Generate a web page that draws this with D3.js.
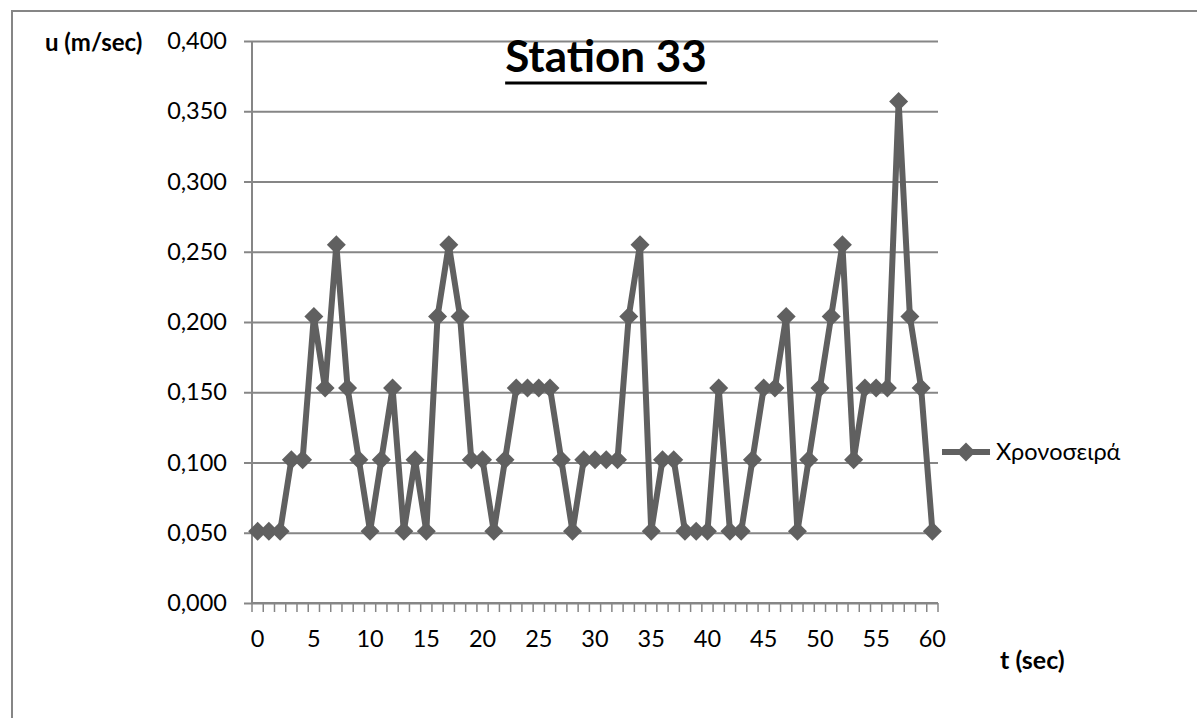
<!DOCTYPE html>
<html>
<head>
<meta charset="utf-8">
<script src="https://cdn.jsdelivr.net/npm/d3@7"></script>
<style>
  html, body { margin: 0; padding: 0; background: #ffffff; }
  svg { display: block; }
  text { font-family: Lato, "Open Sans", sans-serif; fill: #000; }
</style>
</head>
<body>
<svg id="chart" width="1197" height="718"></svg>
<script>
// Time in seconds (one category per second)
const times = d3.range(0, 61);
// Velocity u (m/sec) at each second
const velocities = [
  0.051, 0.051, 0.051, 0.102, 0.102, 0.204, 0.153, 0.255, 0.153, 0.102,
  0.051, 0.102, 0.153, 0.051, 0.102, 0.051, 0.204, 0.255, 0.204, 0.102,
  0.102, 0.051, 0.102, 0.153, 0.153, 0.153, 0.153, 0.102, 0.051, 0.102,
  0.102, 0.102, 0.102, 0.204, 0.255, 0.051, 0.102, 0.102, 0.051, 0.051,
  0.051, 0.153, 0.051, 0.051, 0.102, 0.153, 0.153, 0.204, 0.051, 0.102,
  0.153, 0.204, 0.255, 0.102, 0.153, 0.153, 0.153, 0.357, 0.204, 0.153,
  0.051
];
// Value axis ticks and category labels shown every 5 s
const yTicks = [0, 0.05, 0.1, 0.15, 0.2, 0.25, 0.3, 0.35, 0.4];
const xLabels = [0, 5, 10, 15, 20, 25, 30, 35, 40, 45, 50, 55, 60];
const seriesName = "Χρονοσειρά";
const chartTitle = "Station 33";

const data = times.map((t, i) => ({ t, u: velocities[i] }));

const svg = d3.select("#chart");
const axisColor = "#868686";
const lineColor = "#606060";

// Outer chart frame
svg.append("rect")
  .attr("x", 12).attr("y", 11)
  .attr("width", 1197).attr("height", 720)
  .attr("fill", "none").attr("stroke", axisColor).attr("stroke-width", 2);

const plot = { left: 252, right: 938, top: 41, bottom: 603 };

const x = d3.scaleBand().domain(times).range([plot.left, plot.right]);
const y = d3.scaleLinear().domain([0, 0.4]).range([plot.bottom, plot.top]);
const cx = t => x(t) + x.bandwidth() / 2;

const fmt = v => d3.format(".3f")(v).replace(".", ",");

// Horizontal gridlines with the value axis on the left
const yAxis = d3.axisLeft(y)
  .tickValues(yTicks)
  .tickSize(-(plot.right - plot.left))
  .tickSizeOuter(0)
  .tickPadding(25)
  .tickFormat(fmt);

const gy = svg.append("g").attr("transform", `translate(${plot.left},0)`).call(yAxis);
gy.select(".domain").remove();
gy.selectAll(".tick line")
  .attr("x1", -8)
  .attr("stroke", axisColor).attr("stroke-width", 2);
gy.selectAll(".tick text")
  .attr("font-size", 23.5).attr("fill", "#000")
  .style("font-family", "Lato, sans-serif");

// Vertical axis line
svg.append("line")
  .attr("x1", plot.left).attr("x2", plot.left)
  .attr("y1", plot.top).attr("y2", plot.bottom)
  .attr("stroke", axisColor).attr("stroke-width", 2);

// Category axis: tick marks between categories, labels every 5 s
const boundaries = times.map(t => x(t)).concat([plot.right]);
svg.append("g").selectAll("line")
  .data(boundaries)
  .join("line")
  .attr("x1", d => d).attr("x2", d => d)
  .attr("y1", plot.bottom).attr("y2", plot.bottom + 9)
  .attr("stroke", axisColor).attr("stroke-width", 1.5);

svg.append("line")
  .attr("x1", plot.left).attr("x2", plot.right)
  .attr("y1", plot.bottom).attr("y2", plot.bottom)
  .attr("stroke", axisColor).attr("stroke-width", 2);

svg.append("g").selectAll("text")
  .data(xLabels)
  .join("text")
  .attr("x", d => cx(d))
  .attr("y", 647)
  .attr("text-anchor", "middle")
  .attr("font-size", 23.5)
  .text(d => d);

// Series line
const line = d3.line().x(d => cx(d.t)).y(d => y(d.u));
svg.append("path")
  .datum(data)
  .attr("d", line)
  .attr("fill", "none")
  .attr("stroke", lineColor)
  .attr("stroke-width", 6)
  .attr("stroke-linejoin", "round");

// Diamond markers
const diamond = d3.symbol().type(d3.symbolDiamond2).size(230);
svg.append("g").selectAll("path")
  .data(data)
  .join("path")
  .attr("transform", d => `translate(${cx(d.t)},${y(d.u)})`)
  .attr("d", diamond)
  .attr("fill", lineColor);

// Title with underline
const title = svg.append("text")
  .attr("x", 606).attr("y", 72)
  .attr("text-anchor", "middle")
  .attr("font-size", 44)
  .attr("font-weight", "bold")
  .text(chartTitle);
const tb = title.node().getBBox();
svg.append("line")
  .attr("x1", tb.x).attr("x2", tb.x + tb.width)
  .attr("y1", 83).attr("y2", 83)
  .attr("stroke", "#000").attr("stroke-width", 3);

// Axis titles
svg.append("text")
  .attr("x", 45).attr("y", 51)
  .attr("font-size", 24).attr("font-weight", "bold")
  .text("u (m/sec)");
svg.append("text")
  .attr("x", 1000).attr("y", 669)
  .attr("font-size", 25).attr("font-weight", "bold")
  .text("t (sec)");

// Legend
const lg = svg.append("g").attr("transform", "translate(942,452)");
lg.append("line")
  .attr("x1", 0).attr("x2", 48)
  .attr("stroke", lineColor).attr("stroke-width", 6);
lg.append("path")
  .attr("transform", "translate(24,0)")
  .attr("d", diamond)
  .attr("fill", lineColor);
lg.append("text")
  .attr("x", 54).attr("y", 8)
  .attr("font-size", 23.5)
  .text(seriesName);
</script>
</body>
</html>
